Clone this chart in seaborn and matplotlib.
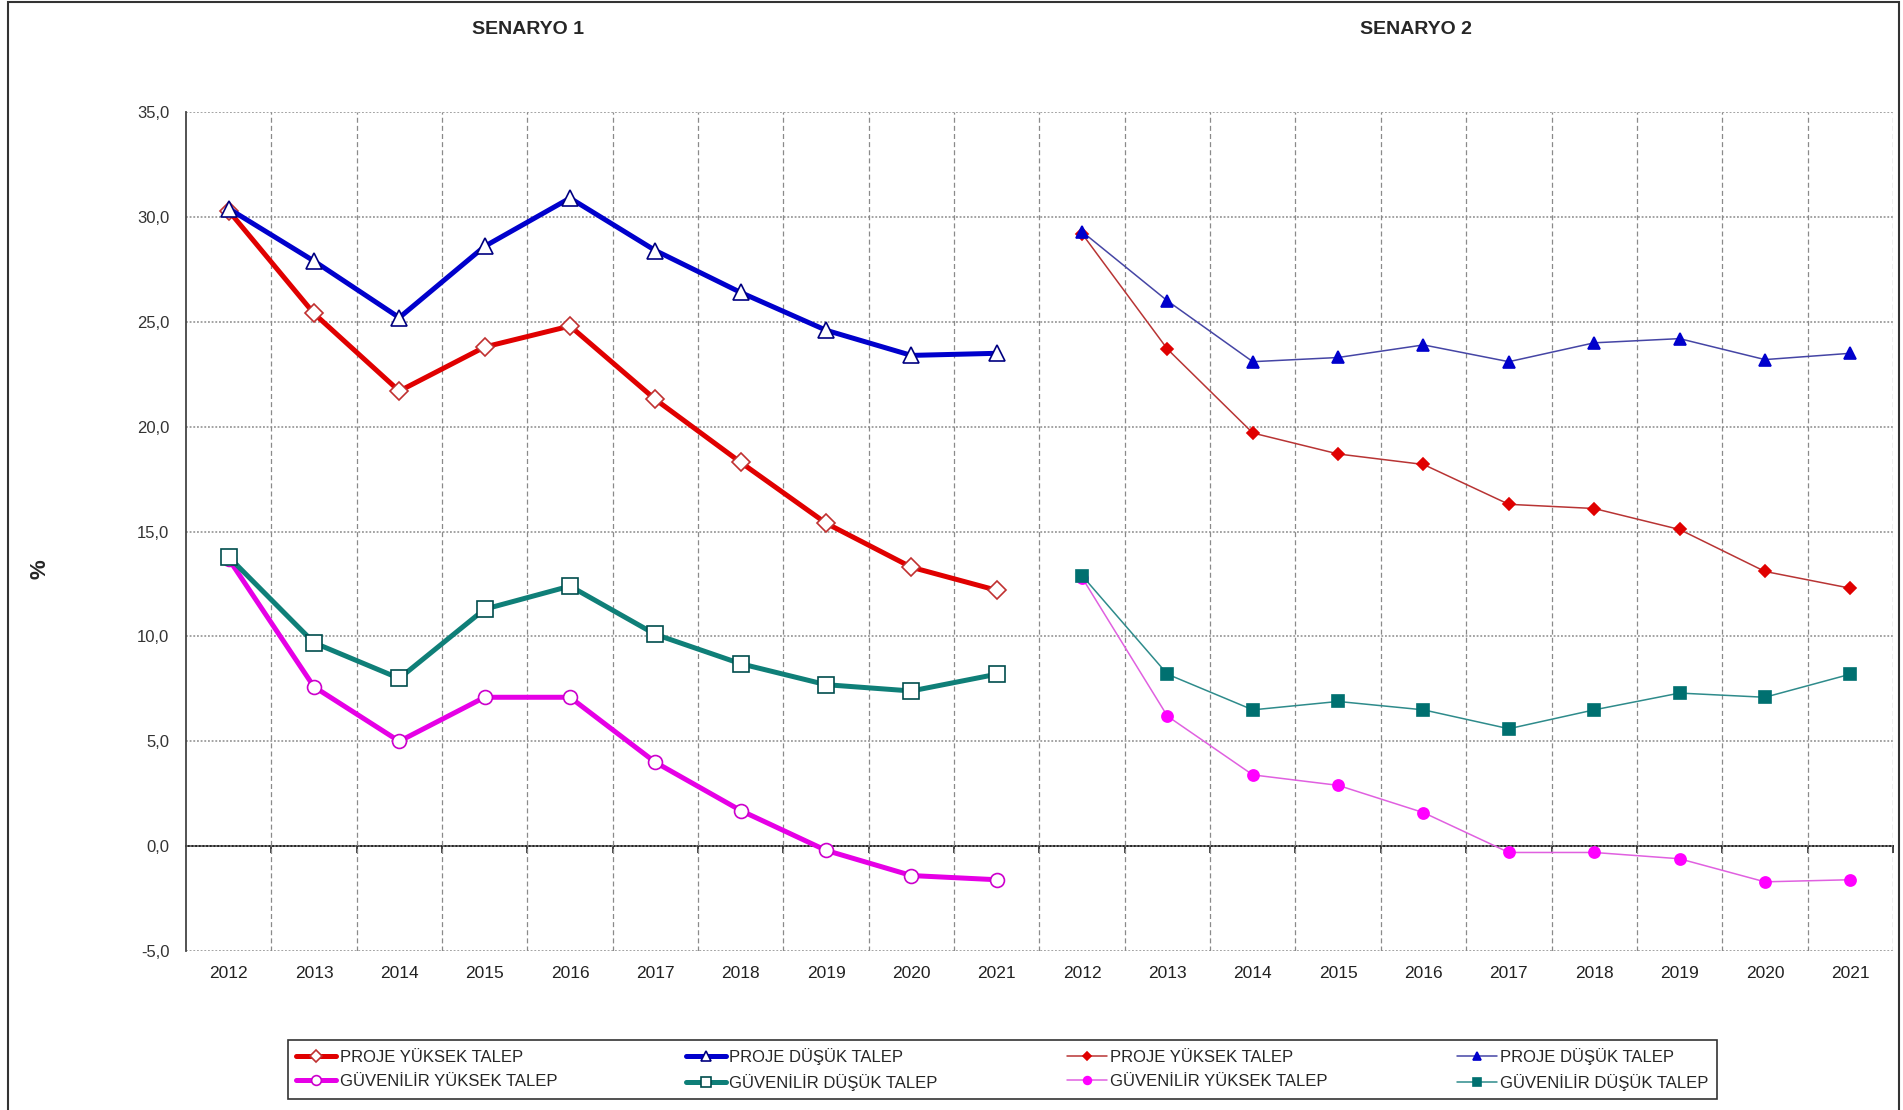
import pandas as pd
import matplotlib.pyplot as plt
import seaborn as sns
from matplotlib.ticker import FuncFormatter, MultipleLocator, FixedLocator
from matplotlib.patches import Rectangle

# Values (%)
years = [2012, 2013, 2014, 2015, 2016, 2017, 2018, 2019, 2020, 2021]

s1_proje_yuksek = [30.3, 25.4, 21.7, 23.8, 24.8, 21.3, 18.3, 15.4, 13.3, 12.2]
s1_proje_dusuk = [30.4, 27.9, 25.2, 28.6, 30.9, 28.4, 26.4, 24.6, 23.4, 23.5]
s1_guv_yuksek = [13.7, 7.6, 5.0, 7.1, 7.1, 4.0, 1.7, -0.2, -1.4, -1.6]
s1_guv_dusuk = [13.8, 9.7, 8.0, 11.3, 12.4, 10.1, 8.7, 7.7, 7.4, 8.2]

s2_proje_yuksek = [29.2, 23.7, 19.7, 18.7, 18.2, 16.3, 16.1, 15.1, 13.1, 12.3]
s2_proje_dusuk = [29.3, 26.0, 23.1, 23.3, 23.9, 23.1, 24.0, 24.2, 23.2, 23.5]
s2_guv_yuksek = [12.8, 6.2, 3.4, 2.9, 1.6, -0.3, -0.3, -0.6, -1.7, -1.6]
s2_guv_dusuk = [12.9, 8.2, 6.5, 6.9, 6.5, 5.6, 6.5, 7.3, 7.1, 8.2]

labels = ["PROJE YÜKSEK TALEP", "PROJE DÜŞÜK TALEP",
          "GÜVENİLİR YÜKSEK TALEP", "GÜVENİLİR DÜŞÜK TALEP"]

# long table: scenario 1 on positions 0-9, scenario 2 on 10-19
rows = []
for scen, series in [(1, [s1_proje_yuksek, s1_proje_dusuk, s1_guv_yuksek, s1_guv_dusuk]),
                     (2, [s2_proje_yuksek, s2_proje_dusuk, s2_guv_yuksek, s2_guv_dusuk])]:
    for lab, vals in zip(labels, series):
        for i, v in enumerate(vals):
            rows.append({"pos": (scen - 1) * len(years) + i, "value": v,
                         "series": f"S{scen} {lab}", "label": lab})
df = pd.DataFrame(rows)

sns.set_style("white")
narrow = ["Liberation Sans", "DejaVu Sans"]
plt.rcParams["font.family"] = ["Liberation Sans", "DejaVu Sans"]

fig = plt.figure(figsize=(19.03, 11.10), dpi=100)
ax = fig.add_axes([0.0977, 0.1432, 0.897, 0.7558])

styles = {
    "S1 PROJE YÜKSEK TALEP": dict(color="#E00000", marker="D", lw=3.6, ms=9, mfc="white", mec="#C03030"),
    "S1 PROJE DÜŞÜK TALEP": dict(color="#0000CC", marker="^", lw=3.6, ms=11, mfc="white", mec="#000080"),
    "S1 GÜVENİLİR YÜKSEK TALEP": dict(color="#E600E6", marker="o", lw=3.6, ms=10, mfc="white", mec="#CC00CC"),
    "S1 GÜVENİLİR DÜŞÜK TALEP": dict(color="#0F7F78", marker="s", lw=3.6, ms=11, mfc="white", mec="#004D4D"),
    "S2 PROJE YÜKSEK TALEP": dict(color="#B83434", marker="D", lw=1.1, ms=6.5, mfc="#E00000", mec="#E00000"),
    "S2 PROJE DÜŞÜK TALEP": dict(color="#4545A5", marker="^", lw=1.1, ms=8, mfc="#0000CC", mec="#0000CC"),
    "S2 GÜVENİLİR YÜKSEK TALEP": dict(color="#E060E0", marker="o", lw=1.1, ms=8, mfc="#FF00FF", mec="#FF00FF"),
    "S2 GÜVENİLİR DÜŞÜK TALEP": dict(color="#2E8B8B", marker="s", lw=1.1, ms=8, mfc="#007070", mec="#007070"),
}

handles = {}
for name, st in styles.items():
    sub = df[df["series"] == name]
    sns.lineplot(data=sub, x="pos", y="value", ax=ax, color=st["color"], marker=st["marker"],
                 linewidth=st["lw"], markersize=st["ms"], markerfacecolor=st["mfc"],
                 markeredgecolor=st["mec"], markeredgewidth=1.2, sort=False, label=name, zorder=3)
    handles[name] = ax.lines[-1]
ax.get_legend().remove()

n = 2 * len(years)
ax.set_xlim(-0.5, n - 0.5)
ax.set_ylim(-5, 35)
ax.yaxis.set_major_locator(MultipleLocator(5))
ax.yaxis.set_major_formatter(FuncFormatter(lambda v, p: f"{v:.1f}".replace(".", ",")))
ax.set_xticks(range(n))
ax.set_xticklabels([str(y) for y in years] * 2, family=narrow, fontsize=12.5, color="#222222")
ax.xaxis.set_minor_locator(FixedLocator([i + 0.5 for i in range(n)]))
ax.tick_params(axis="x", which="major", length=0, pad=11)
ax.tick_params(axis="x", which="minor", length=0)
ax.tick_params(axis="y", length=0, pad=12, labelsize=12, labelcolor="#333333")
for t in ax.get_yticklabels():
    t.set_family(narrow)
ax.get_yticklabels()[0].set_color("#A52A2A")

ax.grid(True, axis="y", which="major", linestyle=(0, (1.2, 1.2)), color="#8a8a8a", linewidth=1.1, zorder=0)
ax.grid(True, axis="x", which="minor", linestyle=(0, (4, 2.5)), color="#8a8a8a", linewidth=0.9, zorder=0)
ax.set_xlabel("")
ax.set_ylabel("")

for side in ["top", "right", "bottom"]:
    ax.spines[side].set_visible(False)
ax.spines["left"].set_color("#444444")
ax.spines["left"].set_linewidth(1.3)

# zero line with small ticks at category boundaries
zero = ax.secondary_xaxis(0.125)
zero.set_xticks([i + 0.5 for i in range(n)])
zero.tick_params(length=5, width=1.2, labelbottom=False, color="#222222")
zero.spines["bottom"].set_color("#222222")
zero.spines["bottom"].set_linewidth(1.4)

fig.text(0.2775, 0.973, "SENARYO 1", ha="center", va="center", fontsize=14, fontweight="bold")
fig.text(0.744, 0.973, "SENARYO 2", ha="center", va="center", fontsize=14, fontweight="bold")
fig.text(0.021, 0.487, "%", ha="center", va="center", rotation=90, fontsize=16, fontweight="bold")

order = ["S1 PROJE YÜKSEK TALEP", "S1 GÜVENİLİR YÜKSEK TALEP",
         "S1 PROJE DÜŞÜK TALEP", "S1 GÜVENİLİR DÜŞÜK TALEP",
         "S2 PROJE YÜKSEK TALEP", "S2 GÜVENİLİR YÜKSEK TALEP",
         "S2 PROJE DÜŞÜK TALEP", "S2 GÜVENİLİR DÜŞÜK TALEP"]
leg = fig.legend([handles[k] for k in order], [k[3:] for k in order], ncol=4,
                 loc="center", bbox_to_anchor=(0.1513, 0.0081, 0.7509, 0.0568), mode="expand",
                 frameon=True, fancybox=False, edgecolor="black", handlelength=2.4,
                 handletextpad=0.2, borderpad=0.5, labelspacing=0.5, markerscale=0.7,
                 borderaxespad=0.0, prop={"family": narrow, "size": 12})
leg.get_frame().set_linewidth(1.2)

# outer chart border
fig.patches.append(Rectangle((0.004, -0.01), 0.994, 1.008, transform=fig.transFigure,
                             fill=False, edgecolor="#333333", linewidth=1.5))

fig.savefig("out.png", dpi=100)
